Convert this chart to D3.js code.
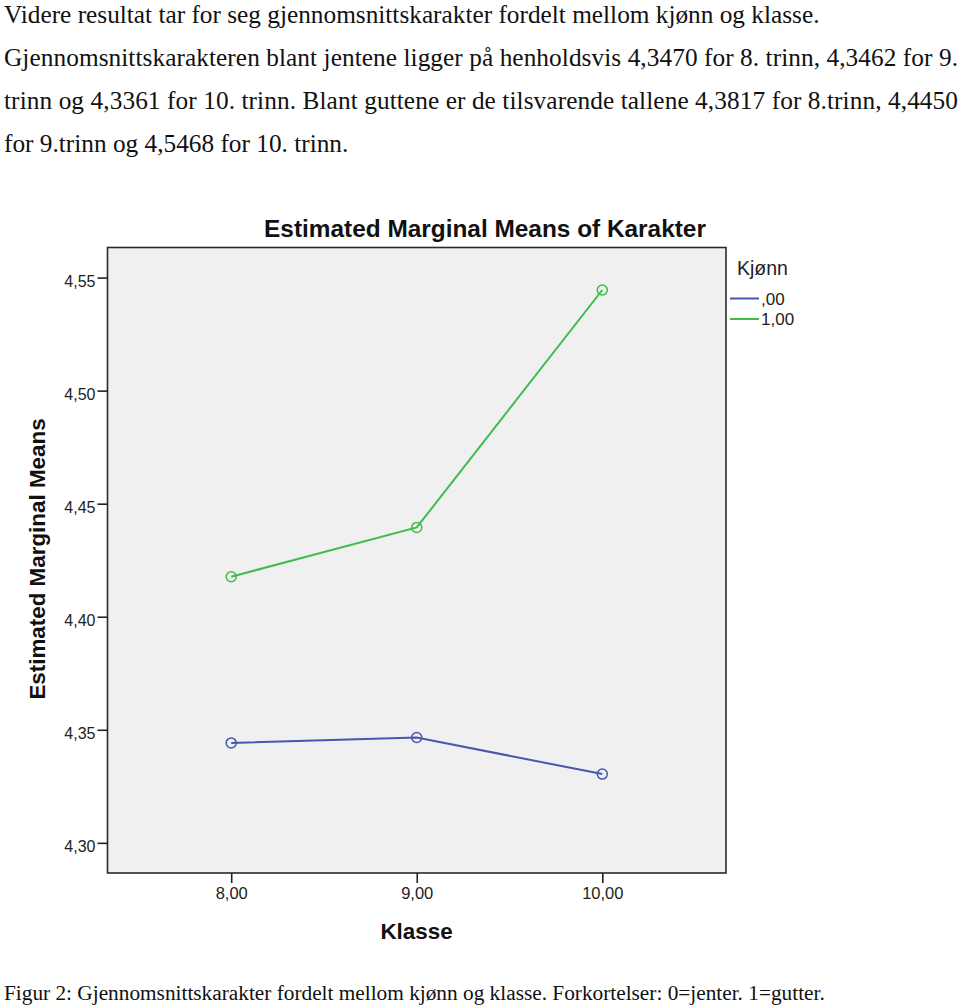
<!DOCTYPE html>
<html>
<head>
<meta charset="utf-8">
<script src="https://cdn.jsdelivr.net/npm/d3@7"></script>
<style>
  html, body { margin: 0; padding: 0; background: #fff; }
  svg { display: block; }
</style>
</head>
<body>
<svg id="chart" width="960" height="1005"></svg>
<script>
// ---- data ----
const introLines = [
  "Videre resultat tar for seg gjennomsnittskarakter fordelt mellom kjønn og klasse.",
  "Gjennomsnittskarakteren blant jentene ligger på henholdsvis 4,3470 for 8. trinn, 4,3462 for 9.",
  "trinn og 4,3361 for 10. trinn. Blant guttene er de tilsvarende tallene 4,3817 for 8.trinn, 4,4450",
  "for 9.trinn og 4,5468 for 10. trinn."
];
const justified = [false, true, true, false];
const caption = "Figur 2: Gjennomsnittskarakter fordelt mellom kjønn og klasse. Forkortelser: 0=jenter. 1=gutter.";
const chartTitle = "Estimated Marginal Means of Karakter";
const yTitle = "Estimated Marginal Means";
const xTitle = "Klasse";
const legendTitle = "Kjønn";

const klasse = [8, 9, 10];
const xTickLabels = ["8,00", "9,00", "10,00"];
const yTicks = [4.30, 4.35, 4.40, 4.45, 4.50, 4.55];
const seriesNames = [",00", "1,00"];
const values00 = [4.3442, 4.3466, 4.3304];
const values100 = [4.4177, 4.4395, 4.5445];
const seriesColors = ["#4658ac", "#3fbc4c"];

// ---- drawing ----
(function () {
const svg = d3.select("#chart");
const serif = "'Liberation Serif', 'Times New Roman', serif";
const sans = "'Liberation Sans', Arial, sans-serif";

// intro text
introLines.forEach((t, i) => {
  const txt = svg.append("text")
    .attr("x", 4)
    .attr("y", 23 + i * 43)
    .attr("font-family", serif)
    .attr("font-size", 25.3)
    .attr("fill", "#111")
    .text(t);
  if (justified[i]) txt.attr("textLength", 954).attr("lengthAdjust", "spacing");
});

// caption
svg.append("text")
  .attr("x", 4).attr("y", 1000)
  .attr("font-family", serif).attr("font-size", 21.3)
  .attr("fill", "#111")
  .text(caption);

// plot area
const pLeft = 107.5, pRight = 726, pTop = 247.5, pBottom = 873;
const x = d3.scaleLinear().domain([7.3333, 10.6667]).range([pLeft, pRight]);
const y = d3.scaleLinear().domain([4.28666, 4.5633]).range([pBottom, pTop]);

svg.append("rect")
  .attr("x", pLeft).attr("y", pTop)
  .attr("width", pRight - pLeft).attr("height", pBottom - pTop)
  .attr("fill", "#f0f0f0")
  .attr("stroke", "#2a2a2a").attr("stroke-width", 1.6);

// axes
const yAxis = d3.axisLeft(y).tickValues(yTicks)
  .tickFormat(d => d3.format(".2f")(d).replace(".", ","))
  .tickSize(10).tickPadding(2);
const gy = svg.append("g").attr("transform", `translate(${pLeft},0)`).call(yAxis);
gy.select(".domain").remove();
gy.selectAll(".tick line").attr("stroke", "#222").attr("stroke-width", 1.6);
gy.selectAll(".tick text").attr("font-family", sans).attr("font-size", 16)
  .attr("fill", "#222").attr("dy", "0.55em");

const xAxis = d3.axisBottom(x).tickValues(klasse)
  .tickFormat((d, i) => xTickLabels[i])
  .tickSize(10).tickPadding(4);
const gx = svg.append("g").attr("transform", `translate(0,${pBottom})`).call(xAxis);
gx.select(".domain").remove();
gx.selectAll(".tick line").attr("stroke", "#222").attr("stroke-width", 1.6);
gx.selectAll(".tick text").attr("font-family", sans).attr("font-size", 16.5)
  .attr("fill", "#222");

// titles
svg.append("text")
  .attr("x", 485).attr("y", 237)
  .attr("text-anchor", "middle")
  .attr("font-family", sans).attr("font-weight", "bold").attr("font-size", 24.4)
  .attr("fill", "#111")
  .text(chartTitle);

svg.append("text")
  .attr("transform", "translate(45,559) rotate(-90)")
  .attr("text-anchor", "middle")
  .attr("font-family", sans).attr("font-weight", "bold").attr("font-size", 22.4)
  .attr("fill", "#111")
  .text(yTitle);

svg.append("text")
  .attr("x", 416.5).attr("y", 939)
  .attr("text-anchor", "middle")
  .attr("font-family", sans).attr("font-weight", "bold").attr("font-size", 22.4)
  .attr("fill", "#111")
  .text(xTitle);

// series
const allSeries = [values00, values100];
const line = d3.line().x((d, i) => x(klasse[i])).y(d => y(d));
allSeries.forEach((vals, s) => {
  svg.append("path")
    .datum(vals)
    .attr("d", line)
    .attr("fill", "none")
    .attr("stroke", seriesColors[s])
    .attr("stroke-width", 2);
  svg.selectAll(null)
    .data(vals)
    .enter().append("circle")
    .attr("cx", (d, i) => x(klasse[i]))
    .attr("cy", d => y(d))
    .attr("r", 5)
    .attr("fill", "none")
    .attr("stroke", seriesColors[s])
    .attr("stroke-width", 1.5);
});

// legend
svg.append("text")
  .attr("x", 737).attr("y", 275)
  .attr("font-family", sans).attr("font-size", 19.5)
  .attr("fill", "#222")
  .text(legendTitle);
seriesNames.forEach((n, i) => {
  const ly = 298.5 + i * 20.5;
  svg.append("line")
    .attr("x1", 730).attr("x2", 759)
    .attr("y1", ly).attr("y2", ly)
    .attr("stroke", seriesColors[i]).attr("stroke-width", 2);
  svg.append("text")
    .attr("x", 761).attr("y", ly + 6)
    .attr("font-family", sans).attr("font-size", 17)
    .attr("fill", "#222")
    .text(n);
});
})();
</script>
</body>
</html>
